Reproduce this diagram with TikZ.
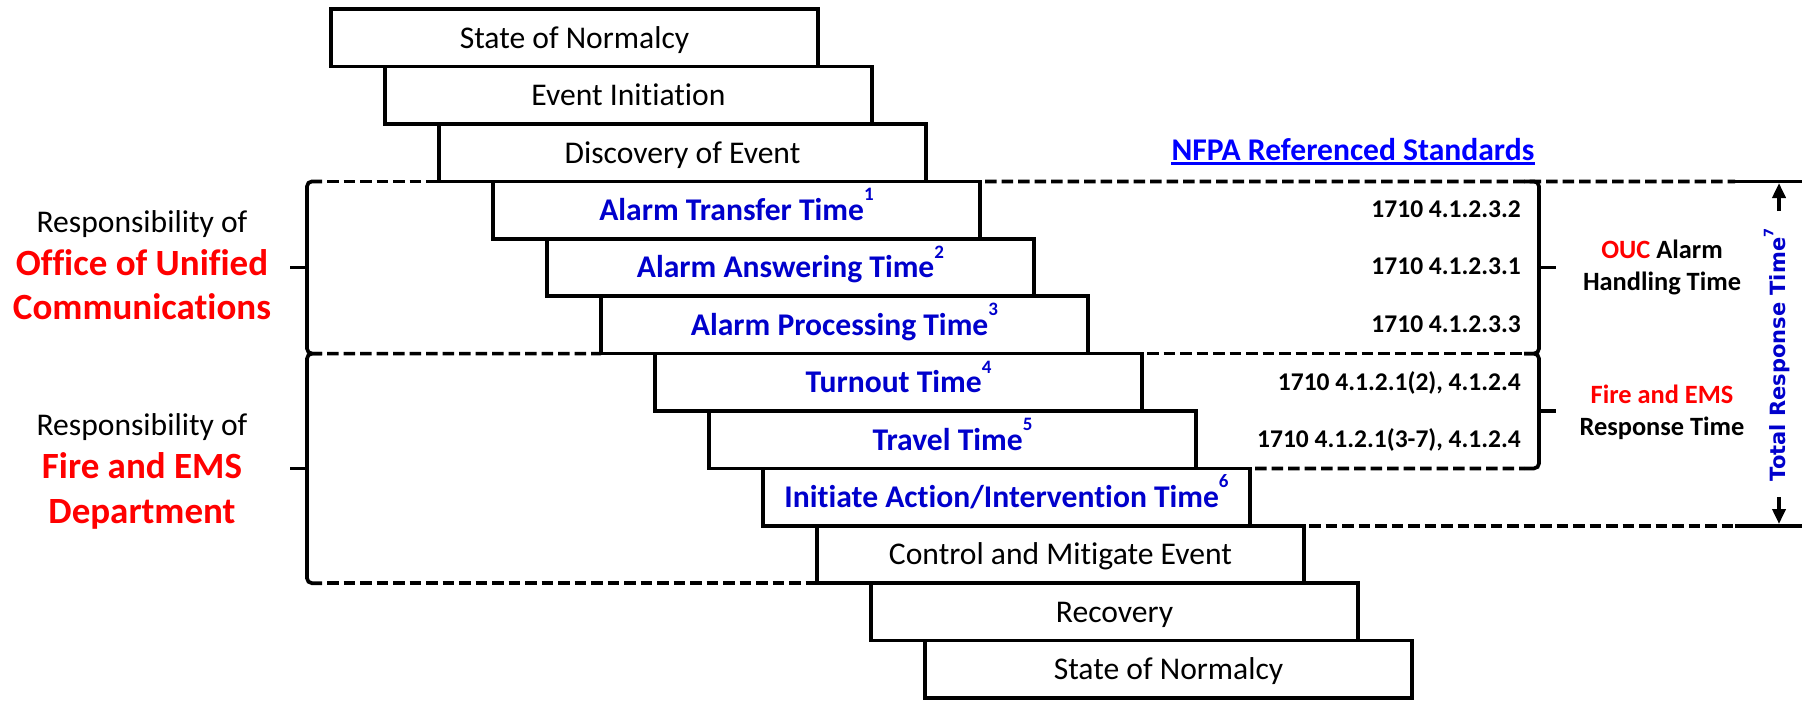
\documentclass[tikz,border=0pt]{standalone}
\usepackage{fontspec}
\setmainfont{Carlito}[Ligatures=CommonOff]
\newfontfamily\dvfont{DejaVu Sans}
\usetikzlibrary{arrows.meta}
\definecolor{boxblue}{RGB}{0,0,204}
\definecolor{linkblue}{RGB}{0,0,255}
\definecolor{alertred}{RGB}{255,0,0}
\newcommand{\myfs}[1]{\fontsize{#1}{#1}\selectfont}
\newcommand{\supnum}[1]{\raisebox{0.62em}{\myfs{19}#1}}
\tikzset{
  stagebox/.style={draw, line width=3.7pt, minimum width=487pt, minimum height=57.4pt,
    inner sep=0pt, outer sep=0pt, text height=24pt, text depth=3.4pt, font=\myfs{31.6}},
  bluebox/.style={stagebox, text=boxblue, font=\bfseries\myfs{31.6}},
  dashline/.style={line width=3.7pt, dash pattern=on 11.5pt off 5pt, dash phase=11.5pt},
  solidline/.style={line width=3.7pt},
  bracest/.style={line width=3.7pt, rounded corners=5pt},
  stdtext/.style={anchor=base east, inner sep=0pt, font=\bfseries\myfs{25.5}},
  lefttext/.style={anchor=base, inner sep=0pt, font=\myfs{31.6}},
  leftred/.style={anchor=base, inner sep=0pt, text=alertred, font=\bfseries\myfs{37}},
  righttext/.style={anchor=base, inner sep=0pt, font=\bfseries\myfs{26.4}},
  arrowst/.style={line width=3.7pt, -{Triangle[length=15pt,width=13pt]}}
}
\begin{document}
\begin{tikzpicture}[x=1pt,y=-1pt]
\useasboundingbox (0,0) rectangle (1808,702);
% stage boxes
\node[stagebox] (s1) at (574.5,37.9) {State of Normalcy};
\node[stagebox] (s2) at (628.5,95.3) {Event Initiation};
\node[stagebox] (s3) at (682.5,152.7) {Discovery of Event};
\node[bluebox] (s4) at (736.5,210.1) {Alarm Transfer Time\supnum{1}};
\node[bluebox] (s5) at (790.5,267.5) {Alarm Answering Time\supnum{2}};
\node[bluebox] (s6) at (844.5,324.9) {Alarm Processing Time\supnum{3}};
\node[bluebox] (s7) at (898.5,382.3) {Turnout Time\supnum{4}};
\node[bluebox] (s8) at (952.5,439.7) {Travel Time\supnum{5}};
\node[bluebox] (s9) at (1006.5,497.1) {Initiate Action/Intervention Time\supnum{6}};
\node[stagebox] (s10) at (1060.5,554.5) {Control and Mitigate Event};
\node[stagebox] (s11) at (1114.5,611.9) {Recovery};
\node[stagebox] (s12) at (1168.5,669.3) {State of Normalcy};

% reference coordinates
\coordinate (lbA) at (322,181.4);
\coordinate (lbB) at (322,353.6);
\coordinate (lbC) at (322,583.2);
\coordinate (rbA) at (1524,181.4);
\coordinate (rbB) at (1524,353.6);
\coordinate (rbC) at (1524,468.4);
\coordinate (dimA) at (1735,181.4);
\coordinate (dimAe) at (1802,181.4);
\coordinate (dimB) at (1735,525.8);
\coordinate (dimBe) at (1802,525.8);

% dashed lines
\draw[dashline] (lbA) -- (s3.south west);
\draw[dashline] (s4.north east) -- (dimA);
\draw[solidline] (dimA) -- (dimAe);
\draw[dashline] (lbB) -- (s6.south west);
\draw[dashline] (s7.north east) -- (rbB);
\draw[dashline] (s9.north east) -- (rbC);
\draw[dashline] (s10.north east) -- (dimB);
\draw[solidline] (dimB) -- (dimBe);
\draw[dashline] (lbC) -- (s10.south west);

% left braces
\draw[bracest] (lbA) -- (307,181.4) -- (307,353.6) -- (lbB);
\draw[bracest] (lbB) -- (307,353.6) -- (307,583.2) -- (lbC);
\draw[solidline] (307,267.5) -- (290,267.5);
\draw[solidline] (307,468.4) -- (290,468.4);
% right braces
\draw[bracest] (rbA) -- (1539,181.4) -- (1539,353.6) -- (rbB);
\draw[bracest] (rbB) -- (1539,353.6) -- (1539,468.4) -- (rbC);
\draw[solidline] (1539,267.5) -- (1556,267.5);
\draw[solidline] (1539,411) -- (1556,411);

% total response time
\coordinate (upS) at (1779,211);
\coordinate (upE) at (1779,183);
\coordinate (dnS) at (1779,497);
\coordinate (dnE) at (1779,524);
\draw[arrowst] (upS) -- (upE);
\draw[arrowst] (dnS) -- (dnE);
\node[rotate=90, inner sep=0pt, text=boxblue, font=\dvfont\bfseries\myfs{21}] (trt) at (1777,355) {Total Response Time\raisebox{0.6em}{\myfs{13}7}};

% NFPA heading
\node[anchor=base, inner sep=0pt, text=linkblue, font=\bfseries\myfs{31.6}] (nfpa) at (1353,160) {NFPA Referenced Standards};
\draw[line width=2.2pt, linkblue] ([yshift=-3.5pt]nfpa.base west) -- ([yshift=-3.5pt]nfpa.base east);

% standards
\node[stdtext] (r1) at (1521,217) {1710 4.1.2.3.2};
\node[stdtext] (r2) at (1521,274.5) {1710 4.1.2.3.1};
\node[stdtext] (r3) at (1521,332.5) {1710 4.1.2.3.3};
\node[stdtext] (r4) at (1521,390) {1710 4.1.2.1(2), 4.1.2.4};
\node[stdtext] (r5) at (1521,447.5) {1710 4.1.2.1(3-7), 4.1.2.4};

% right labels
\node[righttext] (ouc1) at (1662,258) {\textcolor{alertred}{OUC} Alarm};
\node[righttext] (ouc2) at (1662,290) {Handling Time};
\node[righttext] (fe1) at (1662,403) {\textcolor{alertred}{Fire and EMS}};
\node[righttext] (fe2) at (1662,435) {Response Time};

% left labels
\node[lefttext] (l1) at (142,232) {Responsibility of};
\node[leftred] (l2) at (142,275) {Office of Unified};
\node[leftred] (l3) at (142,319) {Communications};
\node[lefttext] (l4) at (142,435) {Responsibility of};
\node[leftred] (l5) at (142,478) {Fire and EMS};
\node[leftred] (l6) at (142,523) {Department};
\end{tikzpicture}
\end{document}
